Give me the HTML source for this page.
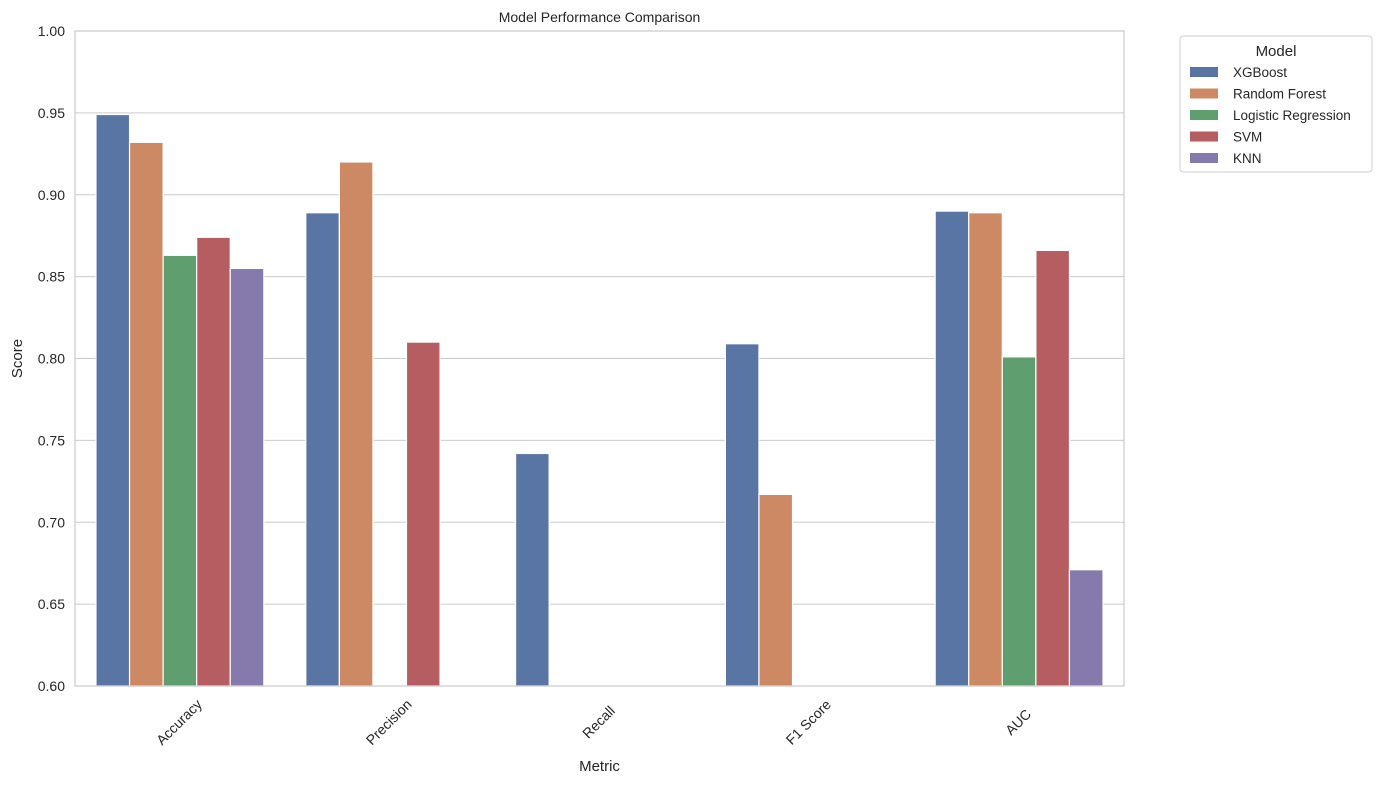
<!DOCTYPE html>
<html><head><meta charset="utf-8"><style>
body{margin:0;background:#fff;font-family:"Liberation Sans",sans-serif;}
svg text{font-family:"Liberation Sans",sans-serif;fill:#262626;}
</style></head><body>
<svg id="chart" width="1382" height="784"></svg>
<script>
const categories=["Accuracy","Precision","Recall","F1 Score","AUC"];
const models=["XGBoost","Random Forest","Logistic Regression","SVM","KNN"];
const xgboost=[0.949,0.889,0.742,0.809,0.890];
const randomForest=[0.932,0.920,0.55,0.717,0.889];
const logisticRegression=[0.863,0.55,0.55,0.55,0.801];
const svmVals=[0.874,0.810,0.55,0.55,0.866];
const knn=[0.855,0.55,0.55,0.55,0.671];
const yTicks=[0.60,0.65,0.70,0.75,0.80,0.85,0.90,0.95,1.00];
const series=[xgboost,randomForest,logisticRegression,svmVals,knn];
const colors=["#5975a4","#cc8963","#5f9e6e","#b55d60","#857aab"];
const NS="http://www.w3.org/2000/svg";
const svg=document.getElementById('chart');
const L=75,R=1124,T=31,B=686,yMin=0.6,yMax=1.0;
const y=v=>B-(Math.max(v,yMin)-yMin)/(yMax-yMin)*(B-T);
const gw=(R-L)/categories.length;
const xc=i=>L+gw*(i+0.5);
function mk(tag,attrs,parent){const e=document.createElementNS(NS,tag);for(const k in attrs)e.setAttribute(k,attrs[k]);(parent||svg).appendChild(e);return e;}
yTicks.forEach(t=>{
 const g=mk('line',{x1:L,x2:R,y1:y(t),y2:y(t),stroke:'#cccccc','stroke-width':1});
 
 
 const tx=mk('text',{x:L-10,y:y(t)+5,'text-anchor':'end','font-size':14});
 tx.textContent=t.toFixed(2);
 
 
});
const bw=gw*0.8/models.length;
series.forEach((s,j)=>{
 s.forEach((v,i)=>{
  if(v<=yMin)return;
  const x0=xc(i)-gw*0.4+j*bw;
  const r=mk('rect',{x:x0,y:y(v),width:bw,height:B-y(v),fill:colors[j],stroke:'#fff','stroke-width':1.2});
  
  
 });
});
const fr=mk('rect',{x:L,y:T,width:R-L,height:B-T,fill:'none',stroke:'#cccccc','stroke-width':1.25});


categories.forEach((c,i)=>{
 const cx=xc(i)-1, cy=B+36;
 const tx=mk('text',{x:cx,y:cy+5,'text-anchor':'middle','font-size':14,transform:`rotate(-45 ${cx} ${cy})`});
 tx.textContent=c;
 
 
});
const title=mk('text',{x:(L+R)/2,y:22,'text-anchor':'middle','font-size':14});
title.textContent='Model Performance Comparison';


const xt=mk('text',{x:(L+R)/2,y:771,'text-anchor':'middle','font-size':15});
xt.textContent='Metric';


const yt=mk('text',{x:22,y:(T+B)/2,'text-anchor':'middle','font-size':15,transform:`rotate(-90 22 ${(T+B)/2})`});
yt.textContent='Score';


const lg=mk('g',{});


mk('rect',{x:1180,y:36,width:192,height:136,rx:3,fill:'#fff',stroke:'#cccccc'},lg);
const lt=mk('text',{x:1276,y:56,'text-anchor':'middle','font-size':15},lg);
lt.textContent='Model';
models.forEach((m,j)=>{
 const ey=72+j*21.5;
 const g=mk('g',{},lg);
 
 
 mk('rect',{x:1190,y:ey-5,width:28,height:10,fill:colors[j]},g);
 const t=mk('text',{x:1233,y:ey+5,'font-size':13.5},g);
 t.textContent=m;
});
</script>
</body></html>
